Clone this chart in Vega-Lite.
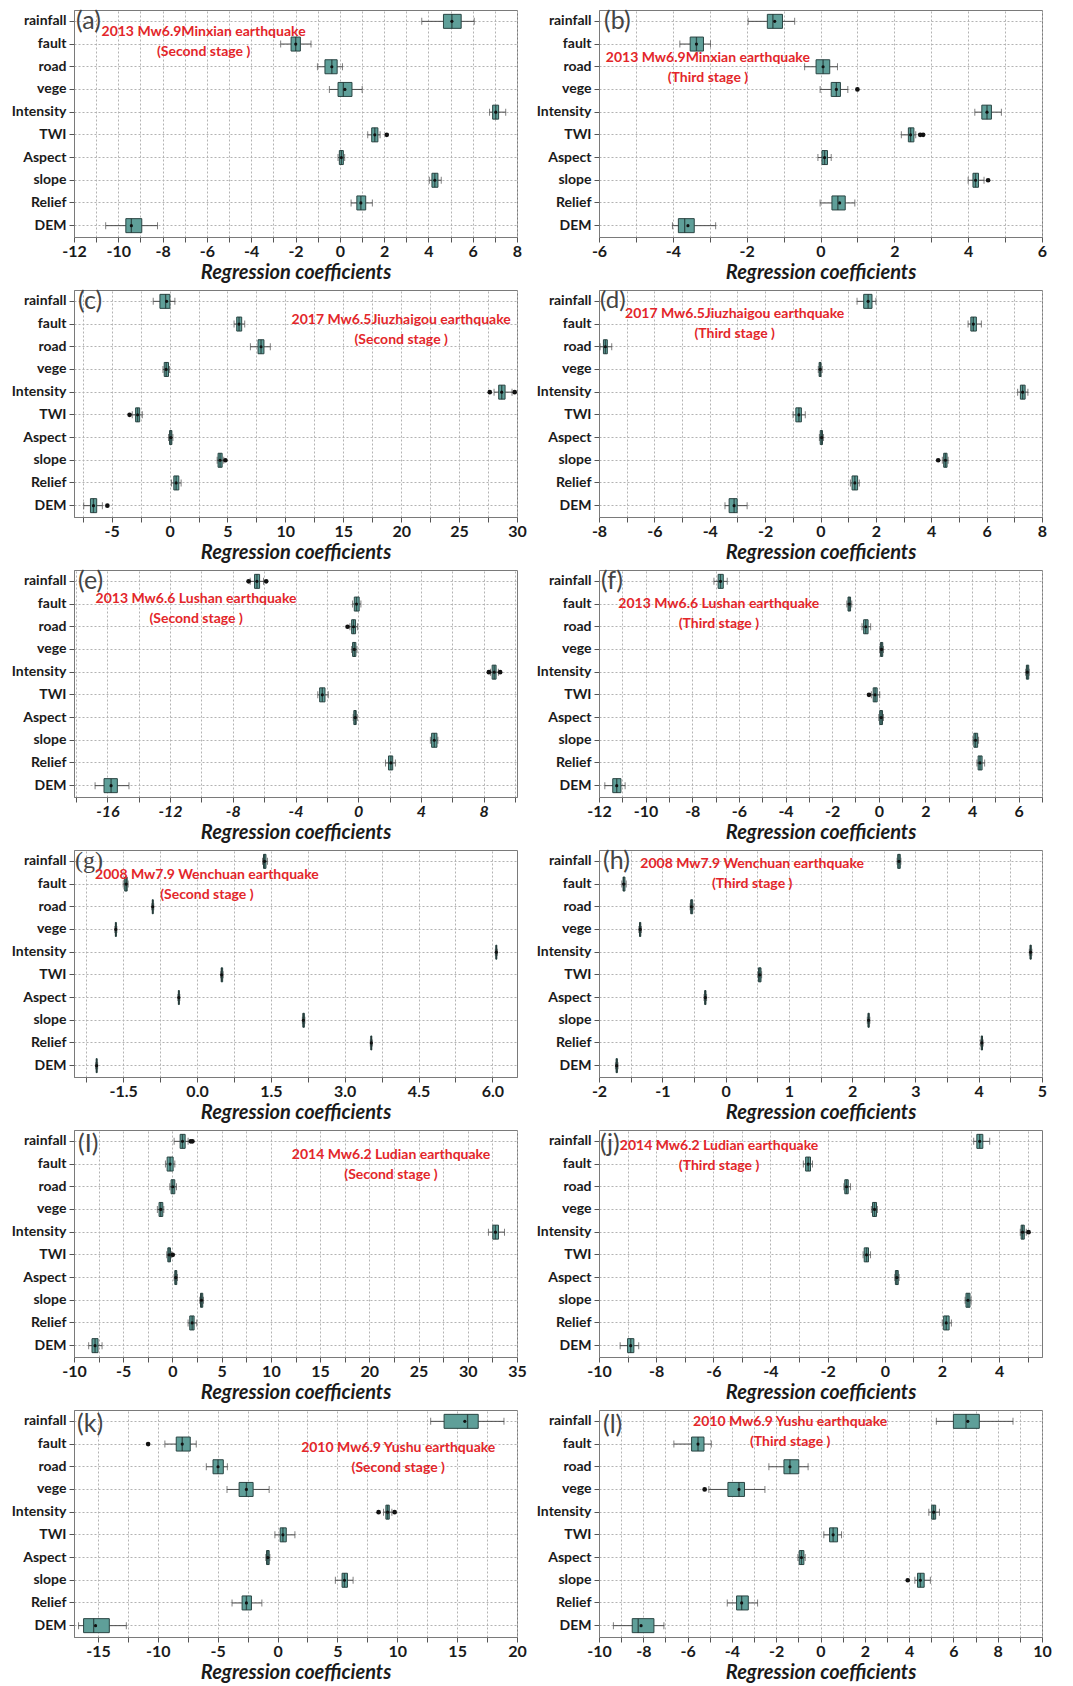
{
"$schema": "https://vega.github.io/schema/vega-lite/v6.json",
"background": "white",
"padding": {"left": 10, "top": 8, "right": 5, "bottom": 5},
"columns": 2,
"bounds": "flush",
"spacing": {"row": 53, "column": 82},
"resolve": {"scale": {"x": "independent", "y": "independent"}},
"datasets": {
"boxes": [
{"p":"a","v":"rainfall","lo":3.70,"q1":4.68,"md":5.06,"q3":5.48,"hi":6.07,"mn":5.06},
{"p":"a","v":"fault","lo":-2.67,"q1":-2.20,"md":-1.99,"q3":-1.78,"hi":-1.30,"mn":-1.99},
{"p":"a","v":"road","lo":-1.01,"q1":-0.67,"md":-0.36,"q3":-0.12,"hi":0.12,"mn":-0.36},
{"p":"a","v":"vege","lo":-0.47,"q1":-0.08,"md":0.16,"q3":0.55,"hi":1.01,"mn":0.23},
{"p":"a","v":"Intensity","lo":6.76,"q1":6.90,"md":7.04,"q3":7.17,"hi":7.49,"mn":7.04},
{"p":"a","v":"TWI","lo":1.26,"q1":1.44,"md":1.58,"q3":1.72,"hi":1.82,"mn":1.58},
{"p":"a","v":"Aspect","lo":-0.08,"q1":-0.02,"md":0.07,"q3":0.16,"hi":0.22,"mn":0.07},
{"p":"a","v":"slope","lo":4.04,"q1":4.16,"md":4.29,"q3":4.43,"hi":4.58,"mn":4.29},
{"p":"a","v":"Relief","lo":0.51,"q1":0.77,"md":0.95,"q3":1.17,"hi":1.47,"mn":0.95},
{"p":"a","v":"DEM","lo":-10.57,"q1":-9.66,"md":-9.41,"q3":-8.94,"hi":-8.23,"mn":-9.41},
{"p":"b","v":"rainfall","lo":-1.96,"q1":-1.44,"md":-1.29,"q3":-1.03,"hi":-0.70,"mn":-1.24},
{"p":"b","v":"fault","lo":-3.81,"q1":-3.53,"md":-3.36,"q3":-3.17,"hi":-2.98,"mn":-3.36},
{"p":"b","v":"road","lo":-0.43,"q1":-0.12,"md":0.07,"q3":0.25,"hi":0.46,"mn":0.07},
{"p":"b","v":"vege","lo":-0.01,"q1":0.29,"md":0.43,"q3":0.54,"hi":0.74,"mn":0.43},
{"p":"b","v":"Intensity","lo":4.18,"q1":4.37,"md":4.51,"q3":4.63,"hi":4.90,"mn":4.51},
{"p":"b","v":"TWI","lo":2.19,"q1":2.38,"md":2.44,"q3":2.53,"hi":2.58,"mn":2.44},
{"p":"b","v":"Aspect","lo":-0.07,"q1":0.04,"md":0.11,"q3":0.19,"hi":0.29,"mn":0.11},
{"p":"b","v":"slope","lo":4.00,"q1":4.13,"md":4.20,"q3":4.28,"hi":4.43,"mn":4.20},
{"p":"b","v":"Relief","lo":-0.01,"q1":0.31,"md":0.47,"q3":0.67,"hi":0.93,"mn":0.52},
{"p":"b","v":"DEM","lo":-4.01,"q1":-3.85,"md":-3.68,"q3":-3.42,"hi":-2.84,"mn":-3.59},
{"p":"c","v":"rainfall","lo":-1.41,"q1":-0.83,"md":-0.34,"q3":0.03,"hi":0.46,"mn":-0.25},
{"p":"c","v":"fault","lo":5.57,"q1":5.80,"md":6.00,"q3":6.23,"hi":6.49,"mn":6.00},
{"p":"c","v":"road","lo":6.98,"q1":7.64,"md":7.90,"q3":8.15,"hi":8.70,"mn":7.90},
{"p":"c","v":"vege","lo":-0.57,"q1":-0.46,"md":-0.29,"q3":-0.09,"hi":0.00,"mn":-0.29},
{"p":"c","v":"Intensity","lo":28.02,"q1":28.42,"md":28.68,"q3":28.97,"hi":29.57,"mn":28.68},
{"p":"c","v":"TWI","lo":-3.22,"q1":-2.93,"md":-2.76,"q3":-2.58,"hi":-2.35,"mn":-2.76},
{"p":"c","v":"Aspect","lo":-0.09,"q1":0.00,"md":0.11,"q3":0.20,"hi":0.29,"mn":0.11},
{"p":"c","v":"slope","lo":4.11,"q1":4.19,"md":4.36,"q3":4.54,"hi":4.68,"mn":4.36},
{"p":"c","v":"Relief","lo":0.17,"q1":0.37,"md":0.57,"q3":0.80,"hi":1.00,"mn":0.57},
{"p":"c","v":"DEM","lo":-7.41,"q1":-6.83,"md":-6.57,"q3":-6.29,"hi":-5.80,"mn":-6.57},
{"p":"d","v":"rainfall","lo":1.32,"q1":1.56,"md":1.72,"q3":1.86,"hi":2.00,"mn":1.72},
{"p":"d","v":"fault","lo":5.33,"q1":5.43,"md":5.52,"q3":5.63,"hi":5.81,"mn":5.52},
{"p":"d","v":"road","lo":-7.96,"q1":-7.84,"md":-7.77,"q3":-7.70,"hi":-7.54,"mn":-7.77},
{"p":"d","v":"vege","lo":-0.08,"q1":-0.05,"md":-0.01,"q3":0.02,"hi":0.06,"mn":-0.01},
{"p":"d","v":"Intensity","lo":7.12,"q1":7.22,"md":7.30,"q3":7.39,"hi":7.49,"mn":7.30},
{"p":"d","v":"TWI","lo":-0.99,"q1":-0.89,"md":-0.78,"q3":-0.69,"hi":-0.55,"mn":-0.78},
{"p":"d","v":"Aspect","lo":-0.04,"q1":-0.01,"md":0.04,"q3":0.07,"hi":0.11,"mn":0.04},
{"p":"d","v":"slope","lo":4.40,"q1":4.45,"md":4.51,"q3":4.57,"hi":4.61,"mn":4.51},
{"p":"d","v":"Relief","lo":1.08,"q1":1.14,"md":1.24,"q3":1.34,"hi":1.40,"mn":1.24},
{"p":"d","v":"DEM","lo":-3.45,"q1":-3.30,"md":-3.12,"q3":-3.01,"hi":-2.65,"mn":-3.12},
{"p":"e","v":"rainfall","lo":-6.89,"q1":-6.61,"md":-6.46,"q3":-6.29,"hi":-6.04,"mn":-6.46},
{"p":"e","v":"fault","lo":-0.36,"q1":-0.25,"md":-0.11,"q3":0.06,"hi":0.17,"mn":-0.11},
{"p":"e","v":"road","lo":-0.53,"q1":-0.42,"md":-0.30,"q3":-0.17,"hi":-0.04,"mn":-0.30},
{"p":"e","v":"vege","lo":-0.42,"q1":-0.36,"md":-0.25,"q3":-0.15,"hi":-0.08,"mn":-0.25},
{"p":"e","v":"Intensity","lo":8.43,"q1":8.54,"md":8.67,"q3":8.79,"hi":8.94,"mn":8.67},
{"p":"e","v":"TWI","lo":-2.58,"q1":-2.46,"md":-2.29,"q3":-2.12,"hi":-1.91,"mn":-2.29},
{"p":"e","v":"Aspect","lo":-0.32,"q1":-0.28,"md":-0.19,"q3":-0.13,"hi":-0.06,"mn":-0.19},
{"p":"e","v":"slope","lo":4.60,"q1":4.68,"md":4.85,"q3":5.02,"hi":5.08,"mn":4.85},
{"p":"e","v":"Relief","lo":1.74,"q1":1.93,"md":2.08,"q3":2.20,"hi":2.37,"mn":2.08},
{"p":"e","v":"DEM","lo":-16.78,"q1":-16.21,"md":-15.76,"q3":-15.36,"hi":-14.62,"mn":-15.76},
{"p":"f","v":"rainfall","lo":-7.07,"q1":-6.89,"md":-6.79,"q3":-6.67,"hi":-6.50,"mn":-6.79},
{"p":"f","v":"fault","lo":-1.37,"q1":-1.32,"md":-1.27,"q3":-1.21,"hi":-1.16,"mn":-1.27},
{"p":"f","v":"road","lo":-0.72,"q1":-0.65,"md":-0.56,"q3":-0.46,"hi":-0.35,"mn":-0.56},
{"p":"f","v":"vege","lo":0.04,"q1":0.07,"md":0.12,"q3":0.17,"hi":0.20,"mn":0.12},
{"p":"f","v":"Intensity","lo":6.30,"q1":6.33,"md":6.37,"q3":6.43,"hi":6.45,"mn":6.37},
{"p":"f","v":"TWI","lo":-0.32,"q1":-0.24,"md":-0.16,"q3":-0.07,"hi":0.04,"mn":-0.16},
{"p":"f","v":"Aspect","lo":0.00,"q1":0.04,"md":0.10,"q3":0.16,"hi":0.20,"mn":0.10},
{"p":"f","v":"slope","lo":4.04,"q1":4.08,"md":4.15,"q3":4.24,"hi":4.28,"mn":4.15},
{"p":"f","v":"Relief","lo":4.21,"q1":4.26,"md":4.34,"q3":4.43,"hi":4.54,"mn":4.34},
{"p":"f","v":"DEM","lo":-11.75,"q1":-11.41,"md":-11.24,"q3":-11.06,"hi":-10.88,"mn":-11.24},
{"p":"g","v":"rainfall","lo":1.33,"q1":1.35,"md":1.37,"q3":1.40,"hi":1.43,"mn":1.37},
{"p":"g","v":"fault","lo":-1.50,"q1":-1.47,"md":-1.44,"q3":-1.42,"hi":-1.40,"mn":-1.44},
{"p":"g","v":"road","lo":-0.92,"q1":-0.91,"md":-0.90,"q3":-0.89,"hi":-0.88,"mn":-0.90},
{"p":"g","v":"vege","lo":-1.67,"q1":-1.66,"md":-1.65,"q3":-1.64,"hi":-1.63,"mn":-1.65},
{"p":"g","v":"Intensity","lo":6.06,"q1":6.07,"md":6.08,"q3":6.09,"hi":6.10,"mn":6.08},
{"p":"g","v":"TWI","lo":0.48,"q1":0.49,"md":0.50,"q3":0.52,"hi":0.53,"mn":0.50},
{"p":"g","v":"Aspect","lo":-0.39,"q1":-0.38,"md":-0.37,"q3":-0.36,"hi":-0.35,"mn":-0.37},
{"p":"g","v":"slope","lo":2.14,"q1":2.15,"md":2.16,"q3":2.18,"hi":2.19,"mn":2.16},
{"p":"g","v":"Relief","lo":3.52,"q1":3.53,"md":3.54,"q3":3.55,"hi":3.56,"mn":3.54},
{"p":"g","v":"DEM","lo":-2.06,"q1":-2.05,"md":-2.04,"q3":-2.03,"hi":-2.02,"mn":-2.04},
{"p":"h","v":"rainfall","lo":2.71,"q1":2.72,"md":2.74,"q3":2.76,"hi":2.77,"mn":2.74},
{"p":"h","v":"fault","lo":-1.64,"q1":-1.62,"md":-1.61,"q3":-1.59,"hi":-1.57,"mn":-1.61},
{"p":"h","v":"road","lo":-0.56,"q1":-0.55,"md":-0.54,"q3":-0.52,"hi":-0.50,"mn":-0.54},
{"p":"h","v":"vege","lo":-1.37,"q1":-1.36,"md":-1.35,"q3":-1.34,"hi":-1.33,"mn":-1.35},
{"p":"h","v":"Intensity","lo":4.80,"q1":4.81,"md":4.82,"q3":4.83,"hi":4.84,"mn":4.82},
{"p":"h","v":"TWI","lo":0.51,"q1":0.52,"md":0.54,"q3":0.56,"hi":0.57,"mn":0.54},
{"p":"h","v":"Aspect","lo":-0.34,"q1":-0.33,"md":-0.32,"q3":-0.31,"hi":-0.30,"mn":-0.32},
{"p":"h","v":"slope","lo":2.24,"q1":2.25,"md":2.26,"q3":2.27,"hi":2.28,"mn":2.26},
{"p":"h","v":"Relief","lo":4.03,"q1":4.04,"md":4.05,"q3":4.06,"hi":4.07,"mn":4.05},
{"p":"h","v":"DEM","lo":-1.74,"q1":-1.73,"md":-1.72,"q3":-1.71,"hi":-1.70,"mn":-1.72},
{"p":"i","v":"rainfall","lo":0.17,"q1":0.78,"md":1.02,"q3":1.29,"hi":1.59,"mn":1.02},
{"p":"i","v":"fault","lo":-0.71,"q1":-0.54,"md":-0.24,"q3":0.07,"hi":0.24,"mn":-0.24},
{"p":"i","v":"road","lo":-0.27,"q1":-0.14,"md":0.03,"q3":0.24,"hi":0.41,"mn":0.03},
{"p":"i","v":"vege","lo":-1.53,"q1":-1.36,"md":-1.19,"q3":-0.98,"hi":-0.88,"mn":-1.19},
{"p":"i","v":"Intensity","lo":32.10,"q1":32.54,"md":32.81,"q3":33.12,"hi":33.73,"mn":32.81},
{"p":"i","v":"TWI","lo":-0.58,"q1":-0.47,"md":-0.34,"q3":-0.20,"hi":-0.10,"mn":-0.34},
{"p":"i","v":"Aspect","lo":0.17,"q1":0.24,"md":0.34,"q3":0.44,"hi":0.51,"mn":0.34},
{"p":"i","v":"slope","lo":2.78,"q1":2.85,"md":2.95,"q3":3.08,"hi":3.15,"mn":2.95},
{"p":"i","v":"Relief","lo":1.59,"q1":1.76,"md":2.00,"q3":2.20,"hi":2.47,"mn":2.00},
{"p":"i","v":"DEM","lo":-8.51,"q1":-8.17,"md":-7.86,"q3":-7.56,"hi":-7.15,"mn":-7.86},
{"p":"j","v":"rainfall","lo":3.11,"q1":3.22,"md":3.32,"q3":3.43,"hi":3.67,"mn":3.32},
{"p":"j","v":"fault","lo":-2.85,"q1":-2.77,"md":-2.68,"q3":-2.60,"hi":-2.53,"mn":-2.68},
{"p":"j","v":"road","lo":-1.43,"q1":-1.40,"md":-1.34,"q3":-1.28,"hi":-1.20,"mn":-1.34},
{"p":"j","v":"vege","lo":-0.47,"q1":-0.43,"md":-0.36,"q3":-0.29,"hi":-0.26,"mn":-0.36},
{"p":"j","v":"Intensity","lo":4.74,"q1":4.77,"md":4.82,"q3":4.88,"hi":4.95,"mn":4.82},
{"p":"j","v":"TWI","lo":-0.76,"q1":-0.72,"md":-0.64,"q3":-0.57,"hi":-0.50,"mn":-0.64},
{"p":"j","v":"Aspect","lo":0.35,"q1":0.37,"md":0.42,"q3":0.47,"hi":0.50,"mn":0.42},
{"p":"j","v":"slope","lo":2.81,"q1":2.84,"md":2.91,"q3":2.98,"hi":3.02,"mn":2.91},
{"p":"j","v":"Relief","lo":2.01,"q1":2.06,"md":2.15,"q3":2.25,"hi":2.33,"mn":2.15},
{"p":"j","v":"DEM","lo":-9.26,"q1":-9.00,"md":-8.89,"q3":-8.78,"hi":-8.61,"mn":-8.89},
{"p":"k","v":"rainfall","lo":12.79,"q1":13.91,"md":15.87,"q3":16.76,"hi":18.91,"mn":15.64},
{"p":"k","v":"fault","lo":-9.41,"q1":-8.46,"md":-7.96,"q3":-7.29,"hi":-6.79,"mn":-7.96},
{"p":"k","v":"road","lo":-5.95,"q1":-5.39,"md":-4.97,"q3":-4.53,"hi":-4.19,"mn":-4.97},
{"p":"k","v":"vege","lo":-4.22,"q1":-3.21,"md":-2.60,"q3":-2.04,"hi":-0.70,"mn":-2.60},
{"p":"k","v":"Intensity","lo":8.85,"q1":9.05,"md":9.19,"q3":9.33,"hi":9.55,"mn":9.19},
{"p":"k","v":"TWI","lo":-0.22,"q1":0.22,"md":0.45,"q3":0.73,"hi":1.45,"mn":0.45},
{"p":"k","v":"Aspect","lo":-0.98,"q1":-0.92,"md":-0.81,"q3":-0.70,"hi":-0.64,"mn":-0.81},
{"p":"k","v":"slope","lo":4.83,"q1":5.39,"md":5.59,"q3":5.84,"hi":6.31,"mn":5.59},
{"p":"k","v":"Relief","lo":-3.80,"q1":-2.96,"md":-2.60,"q3":-2.18,"hi":-1.31,"mn":-2.60},
{"p":"k","v":"DEM","lo":-16.62,"q1":-16.20,"md":-15.36,"q3":-14.05,"hi":-12.63,"mn":-15.20},
{"p":"l","v":"rainfall","lo":5.23,"q1":6.00,"md":6.57,"q3":7.17,"hi":8.69,"mn":6.65},
{"p":"l","v":"fault","lo":-6.62,"q1":-5.82,"md":-5.53,"q3":-5.26,"hi":-4.93,"mn":-5.53},
{"p":"l","v":"road","lo":-2.33,"q1":-1.65,"md":-1.38,"q3":-0.98,"hi":-0.56,"mn":-1.38},
{"p":"l","v":"vege","lo":-5.04,"q1":-4.18,"md":-3.68,"q3":-3.43,"hi":-2.51,"mn":-3.68},
{"p":"l","v":"Intensity","lo":4.89,"q1":5.02,"md":5.11,"q3":5.20,"hi":5.37,"mn":5.11},
{"p":"l","v":"TWI","lo":0.15,"q1":0.41,"md":0.57,"q3":0.77,"hi":0.95,"mn":0.57},
{"p":"l","v":"Aspect","lo":-1.02,"q1":-0.96,"md":-0.86,"q3":-0.75,"hi":-0.69,"mn":-0.86},
{"p":"l","v":"slope","lo":4.26,"q1":4.38,"md":4.51,"q3":4.68,"hi":4.96,"mn":4.51},
{"p":"l","v":"Relief","lo":-4.21,"q1":-3.79,"md":-3.56,"q3":-3.26,"hi":-2.84,"mn":-3.56},
{"p":"l","v":"DEM","lo":-9.35,"q1":-8.50,"md":-8.23,"q3":-7.52,"hi":-7.07,"mn":-8.10}
],
"outliers": [
{"p":"a","v":"TWI","x":2.12},
{"p":"b","v":"vege","x":1.00},
{"p":"b","v":"TWI","x":2.70},
{"p":"b","v":"TWI","x":2.78},
{"p":"b","v":"slope","x":4.54},
{"p":"c","v":"Intensity","x":27.65},
{"p":"c","v":"Intensity","x":29.80},
{"p":"c","v":"TWI","x":-3.45},
{"p":"c","v":"slope","x":4.82},
{"p":"c","v":"DEM","x":-5.37},
{"p":"d","v":"slope","x":4.25},
{"p":"e","v":"rainfall","x":-6.99},
{"p":"e","v":"rainfall","x":-5.87},
{"p":"e","v":"road","x":-0.68},
{"p":"e","v":"Intensity","x":8.33},
{"p":"e","v":"Intensity","x":9.05},
{"p":"f","v":"TWI","x":-0.42},
{"p":"i","v":"rainfall","x":1.86},
{"p":"i","v":"rainfall","x":2.03},
{"p":"i","v":"TWI","x":0.03},
{"p":"j","v":"Intensity","x":5.03},
{"p":"k","v":"fault","x":-10.81},
{"p":"k","v":"Intensity","x":8.44},
{"p":"k","v":"Intensity","x":9.78},
{"p":"l","v":"vege","x":-5.23},
{"p":"l","v":"slope","x":3.94}
],
"notes": [
{"p":"a","tag":"(a)","t":["2013 Mw6.9Minxian earthquake","(Second stage )"]},
{"p":"b","tag":"(b)","t":["2013 Mw6.9Minxian earthquake","(Third stage )"]},
{"p":"c","tag":"(c)","t":["2017 Mw6.5Jiuzhaigou earthquake","(Second stage )"]},
{"p":"d","tag":"(d)","t":["2017 Mw6.5Jiuzhaigou earthquake","(Third stage )"]},
{"p":"e","tag":"(e)","t":["2013 Mw6.6 Lushan earthquake","(Second stage )"]},
{"p":"f","tag":"(f)","t":["2013 Mw6.6 Lushan earthquake","(Third stage )"]},
{"p":"g","tag":"(g)","t":["2008 Mw7.9 Wenchuan earthquake","(Second stage )"]},
{"p":"h","tag":"(h)","t":["2008 Mw7.9 Wenchuan earthquake","(Third stage )"]},
{"p":"i","tag":"(I)","t":["2014 Mw6.2 Ludian earthquake","(Second stage )"]},
{"p":"j","tag":"(j)","t":["2014 Mw6.2 Ludian earthquake","(Third stage )"]},
{"p":"k","tag":"(k)","t":["2010 Mw6.9 Yushu earthquake","(Second stage )"]},
{"p":"l","tag":"(l)","t":["2010 Mw6.9 Yushu earthquake","(Third stage )"]}
]
},
"concat": [
{"width":443,"height":227,"layer":[
{"data":{"name":"boxes"},"transform":[{"filter":"datum.p == 'a'"}],"encoding":{"y":{"field":"v","type":"nominal","title":null,"scale":{"domain":["rainfall","fault","road","vege","Intensity","TWI","Aspect","slope","Relief","DEM"]}}},"layer":[
{"mark":{"type":"rule","color":"#4a4a4a"},"encoding":{"x":{"field":"lo","type":"quantitative","title":"Regression coefficients","scale":{"domain":[-12,8],"nice":false,"zero":false},"axis":{"tickCount":60,"labelOverlap":false,"labelBound":false,"values":[-12,-11,-10,-9,-8,-7,-6,-5,-4,-3,-2,-1,0,1,2,3,4,5,6,7,8],"labelExpr":"abs(datum.value % 2) < 1e-6 ? '' + datum.value : ''"}},"x2":{"field":"hi"}}},
{"mark":{"type":"tick","size":7,"thickness":1,"color":"#4a4a4a"},"encoding":{"x":{"field":"lo","type":"quantitative"}}},
{"mark":{"type":"tick","size":7,"thickness":1,"color":"#4a4a4a"},"encoding":{"x":{"field":"hi","type":"quantitative"}}},
{"mark":{"type":"bar","height":14,"fill":"#5f9f99","stroke":"#2a4543","strokeWidth":1},"encoding":{"x":{"field":"q1","type":"quantitative"},"x2":{"field":"q3"}}},
{"mark":{"type":"tick","size":14,"thickness":1.3,"color":"#1c2b2a"},"encoding":{"x":{"field":"md","type":"quantitative"}}},
{"mark":{"type":"point","filled":true,"size":10,"color":"#111","opacity":1},"encoding":{"x":{"field":"mn","type":"quantitative"}}}
]},
{"data":{"name":"outliers"},"transform":[{"filter":"datum.p == 'a'"}],"mark":{"type":"point","filled":true,"size":22,"color":"#111","opacity":1},"encoding":{"x":{"field":"x","type":"quantitative"},"y":{"field":"v","type":"nominal","title":null}}},
{"data":{"name":"notes"},"transform":[{"filter":"datum.p == 'a'"}],"mark":{"type":"text","align":"left","baseline":"middle","dx":2,"font":"Lato","fontSize":25,"color":"#444"},"encoding":{"x":{"datum":-12},"y":{"datum":"rainfall"},"text":{"field":"tag"}}},
{"data":{"name":"notes"},"transform":[{"filter":"datum.p == 'a'"}],"mark":{"type":"text","align":"center","baseline":"middle","dy":-12,"font":"Lato","fontWeight":"bold","fontSize":14,"lineHeight":20,"color":"#e3262a"},"encoding":{"x":{"datum":-6.15},"y":{"datum":"fault"},"text":{"field":"t"}}}
]},
{"width":443,"height":227,"layer":[
{"data":{"name":"boxes"},"transform":[{"filter":"datum.p == 'b'"}],"encoding":{"y":{"field":"v","type":"nominal","title":null,"scale":{"domain":["rainfall","fault","road","vege","Intensity","TWI","Aspect","slope","Relief","DEM"]}}},"layer":[
{"mark":{"type":"rule","color":"#4a4a4a"},"encoding":{"x":{"field":"lo","type":"quantitative","title":"Regression coefficients","scale":{"domain":[-6,6],"nice":false,"zero":false},"axis":{"tickCount":60,"labelOverlap":false,"labelBound":false,"values":[-6,-5,-4,-3,-2,-1,0,1,2,3,4,5,6],"labelExpr":"abs(datum.value % 2) < 1e-6 ? '' + datum.value : ''"}},"x2":{"field":"hi"}}},
{"mark":{"type":"tick","size":7,"thickness":1,"color":"#4a4a4a"},"encoding":{"x":{"field":"lo","type":"quantitative"}}},
{"mark":{"type":"tick","size":7,"thickness":1,"color":"#4a4a4a"},"encoding":{"x":{"field":"hi","type":"quantitative"}}},
{"mark":{"type":"bar","height":14,"fill":"#5f9f99","stroke":"#2a4543","strokeWidth":1},"encoding":{"x":{"field":"q1","type":"quantitative"},"x2":{"field":"q3"}}},
{"mark":{"type":"tick","size":14,"thickness":1.3,"color":"#1c2b2a"},"encoding":{"x":{"field":"md","type":"quantitative"}}},
{"mark":{"type":"point","filled":true,"size":10,"color":"#111","opacity":1},"encoding":{"x":{"field":"mn","type":"quantitative"}}}
]},
{"data":{"name":"outliers"},"transform":[{"filter":"datum.p == 'b'"}],"mark":{"type":"point","filled":true,"size":22,"color":"#111","opacity":1},"encoding":{"x":{"field":"x","type":"quantitative"},"y":{"field":"v","type":"nominal","title":null}}},
{"data":{"name":"notes"},"transform":[{"filter":"datum.p == 'b'"}],"mark":{"type":"text","align":"left","baseline":"middle","dx":5,"font":"Lato","fontSize":25,"color":"#444"},"encoding":{"x":{"datum":-6},"y":{"datum":"rainfall"},"text":{"field":"tag"}}},
{"data":{"name":"notes"},"transform":[{"filter":"datum.p == 'b'"}],"mark":{"type":"text","align":"center","baseline":"middle","dy":-9,"font":"Lato","fontWeight":"bold","fontSize":14,"lineHeight":20,"color":"#e3262a"},"encoding":{"x":{"datum":-3.05},"y":{"datum":"road"},"text":{"field":"t"}}}
]},
{"width":443,"height":227,"layer":[
{"data":{"name":"boxes"},"transform":[{"filter":"datum.p == 'c'"}],"encoding":{"y":{"field":"v","type":"nominal","title":null,"scale":{"domain":["rainfall","fault","road","vege","Intensity","TWI","Aspect","slope","Relief","DEM"]}}},"layer":[
{"mark":{"type":"rule","color":"#4a4a4a"},"encoding":{"x":{"field":"lo","type":"quantitative","title":"Regression coefficients","scale":{"domain":[-8.25,30],"nice":false,"zero":false},"axis":{"tickCount":60,"labelOverlap":false,"labelBound":false,"values":[-7.5,-5,-2.5,0,2.5,5,7.5,10,12.5,15,17.5,20,22.5,25,27.5,30],"labelExpr":"abs(datum.value % 5) < 1e-6 ? '' + datum.value : ''"}},"x2":{"field":"hi"}}},
{"mark":{"type":"tick","size":7,"thickness":1,"color":"#4a4a4a"},"encoding":{"x":{"field":"lo","type":"quantitative"}}},
{"mark":{"type":"tick","size":7,"thickness":1,"color":"#4a4a4a"},"encoding":{"x":{"field":"hi","type":"quantitative"}}},
{"mark":{"type":"bar","height":14,"fill":"#5f9f99","stroke":"#2a4543","strokeWidth":1},"encoding":{"x":{"field":"q1","type":"quantitative"},"x2":{"field":"q3"}}},
{"mark":{"type":"tick","size":14,"thickness":1.3,"color":"#1c2b2a"},"encoding":{"x":{"field":"md","type":"quantitative"}}},
{"mark":{"type":"point","filled":true,"size":10,"color":"#111","opacity":1},"encoding":{"x":{"field":"mn","type":"quantitative"}}}
]},
{"data":{"name":"outliers"},"transform":[{"filter":"datum.p == 'c'"}],"mark":{"type":"point","filled":true,"size":22,"color":"#111","opacity":1},"encoding":{"x":{"field":"x","type":"quantitative"},"y":{"field":"v","type":"nominal","title":null}}},
{"data":{"name":"notes"},"transform":[{"filter":"datum.p == 'c'"}],"mark":{"type":"text","align":"left","baseline":"middle","dx":4,"font":"Lato","fontSize":25,"color":"#444"},"encoding":{"x":{"datum":-8.25},"y":{"datum":"rainfall"},"text":{"field":"tag"}}},
{"data":{"name":"notes"},"transform":[{"filter":"datum.p == 'c'"}],"mark":{"type":"text","align":"center","baseline":"middle","dy":-4,"font":"Lato","fontWeight":"bold","fontSize":14,"lineHeight":20,"color":"#e3262a"},"encoding":{"x":{"datum":20},"y":{"datum":"fault"},"text":{"field":"t"}}}
]},
{"width":443,"height":227,"layer":[
{"data":{"name":"boxes"},"transform":[{"filter":"datum.p == 'd'"}],"encoding":{"y":{"field":"v","type":"nominal","title":null,"scale":{"domain":["rainfall","fault","road","vege","Intensity","TWI","Aspect","slope","Relief","DEM"]}}},"layer":[
{"mark":{"type":"rule","color":"#4a4a4a"},"encoding":{"x":{"field":"lo","type":"quantitative","title":"Regression coefficients","scale":{"domain":[-8,8],"nice":false,"zero":false},"axis":{"tickCount":60,"labelOverlap":false,"labelBound":false,"values":[-8,-7,-6,-5,-4,-3,-2,-1,0,1,2,3,4,5,6,7,8],"labelExpr":"abs(datum.value % 2) < 1e-6 ? '' + datum.value : ''"}},"x2":{"field":"hi"}}},
{"mark":{"type":"tick","size":7,"thickness":1,"color":"#4a4a4a"},"encoding":{"x":{"field":"lo","type":"quantitative"}}},
{"mark":{"type":"tick","size":7,"thickness":1,"color":"#4a4a4a"},"encoding":{"x":{"field":"hi","type":"quantitative"}}},
{"mark":{"type":"bar","height":14,"fill":"#5f9f99","stroke":"#2a4543","strokeWidth":1},"encoding":{"x":{"field":"q1","type":"quantitative"},"x2":{"field":"q3"}}},
{"mark":{"type":"tick","size":14,"thickness":1.3,"color":"#1c2b2a"},"encoding":{"x":{"field":"md","type":"quantitative"}}},
{"mark":{"type":"point","filled":true,"size":10,"color":"#111","opacity":1},"encoding":{"x":{"field":"mn","type":"quantitative"}}}
]},
{"data":{"name":"outliers"},"transform":[{"filter":"datum.p == 'd'"}],"mark":{"type":"point","filled":true,"size":22,"color":"#111","opacity":1},"encoding":{"x":{"field":"x","type":"quantitative"},"y":{"field":"v","type":"nominal","title":null}}},
{"data":{"name":"notes"},"transform":[{"filter":"datum.p == 'd'"}],"mark":{"type":"text","align":"left","baseline":"middle","dx":1,"font":"Lato","fontSize":24,"color":"#444"},"encoding":{"x":{"datum":-8},"y":{"datum":"rainfall"},"text":{"field":"tag"}}},
{"data":{"name":"notes"},"transform":[{"filter":"datum.p == 'd'"}],"mark":{"type":"text","align":"center","baseline":"middle","dy":-10,"font":"Lato","fontWeight":"bold","fontSize":14,"lineHeight":20,"color":"#e3262a"},"encoding":{"x":{"datum":-3.1},"y":{"datum":"fault"},"text":{"field":"t"}}}
]},
{"width":443,"height":227,"layer":[
{"data":{"name":"boxes"},"transform":[{"filter":"datum.p == 'e'"}],"encoding":{"y":{"field":"v","type":"nominal","title":null,"scale":{"domain":["rainfall","fault","road","vege","Intensity","TWI","Aspect","slope","Relief","DEM"]}}},"layer":[
{"mark":{"type":"rule","color":"#4a4a4a"},"encoding":{"x":{"field":"lo","type":"quantitative","title":"Regression coefficients","scale":{"domain":[-18.125,10.125],"nice":false,"zero":false},"axis":{"tickCount":60,"labelOverlap":false,"labelBound":false,"values":[-18,-16,-14,-12,-10,-8,-6,-4,-2,0,2,4,6,8,10],"labelFontStyle":"italic","labelExpr":"abs(datum.value % 4) < 1e-6 ? '' + datum.value : ''"}},"x2":{"field":"hi"}}},
{"mark":{"type":"tick","size":7,"thickness":1,"color":"#4a4a4a"},"encoding":{"x":{"field":"lo","type":"quantitative"}}},
{"mark":{"type":"tick","size":7,"thickness":1,"color":"#4a4a4a"},"encoding":{"x":{"field":"hi","type":"quantitative"}}},
{"mark":{"type":"bar","height":14,"fill":"#5f9f99","stroke":"#2a4543","strokeWidth":1},"encoding":{"x":{"field":"q1","type":"quantitative"},"x2":{"field":"q3"}}},
{"mark":{"type":"tick","size":14,"thickness":1.3,"color":"#1c2b2a"},"encoding":{"x":{"field":"md","type":"quantitative"}}},
{"mark":{"type":"point","filled":true,"size":10,"color":"#111","opacity":1},"encoding":{"x":{"field":"mn","type":"quantitative"}}}
]},
{"data":{"name":"outliers"},"transform":[{"filter":"datum.p == 'e'"}],"mark":{"type":"point","filled":true,"size":22,"color":"#111","opacity":1},"encoding":{"x":{"field":"x","type":"quantitative"},"y":{"field":"v","type":"nominal","title":null}}},
{"data":{"name":"notes"},"transform":[{"filter":"datum.p == 'e'"}],"mark":{"type":"text","align":"left","baseline":"middle","dx":4,"font":"Lato","fontSize":25,"color":"#444"},"encoding":{"x":{"datum":-18.125},"y":{"datum":"rainfall"},"text":{"field":"tag"}}},
{"data":{"name":"notes"},"transform":[{"filter":"datum.p == 'e'"}],"mark":{"type":"text","align":"center","baseline":"middle","dy":-5,"font":"Lato","fontWeight":"bold","fontSize":14,"lineHeight":20,"color":"#e3262a"},"encoding":{"x":{"datum":-10.34},"y":{"datum":"fault"},"text":{"field":"t"}}}
]},
{"width":443,"height":227,"layer":[
{"data":{"name":"boxes"},"transform":[{"filter":"datum.p == 'f'"}],"encoding":{"y":{"field":"v","type":"nominal","title":null,"scale":{"domain":["rainfall","fault","road","vege","Intensity","TWI","Aspect","slope","Relief","DEM"]}}},"layer":[
{"mark":{"type":"rule","color":"#4a4a4a"},"encoding":{"x":{"field":"lo","type":"quantitative","title":"Regression coefficients","scale":{"domain":[-12,7],"nice":false,"zero":false},"axis":{"tickCount":60,"labelOverlap":false,"labelBound":false,"values":[-12,-11,-10,-9,-8,-7,-6,-5,-4,-3,-2,-1,0,1,2,3,4,5,6,7],"labelExpr":"abs(datum.value % 2) < 1e-6 ? '' + datum.value : ''"}},"x2":{"field":"hi"}}},
{"mark":{"type":"tick","size":7,"thickness":1,"color":"#4a4a4a"},"encoding":{"x":{"field":"lo","type":"quantitative"}}},
{"mark":{"type":"tick","size":7,"thickness":1,"color":"#4a4a4a"},"encoding":{"x":{"field":"hi","type":"quantitative"}}},
{"mark":{"type":"bar","height":14,"fill":"#5f9f99","stroke":"#2a4543","strokeWidth":1},"encoding":{"x":{"field":"q1","type":"quantitative"},"x2":{"field":"q3"}}},
{"mark":{"type":"tick","size":14,"thickness":1.3,"color":"#1c2b2a"},"encoding":{"x":{"field":"md","type":"quantitative"}}},
{"mark":{"type":"point","filled":true,"size":10,"color":"#111","opacity":1},"encoding":{"x":{"field":"mn","type":"quantitative"}}}
]},
{"data":{"name":"outliers"},"transform":[{"filter":"datum.p == 'f'"}],"mark":{"type":"point","filled":true,"size":22,"color":"#111","opacity":1},"encoding":{"x":{"field":"x","type":"quantitative"},"y":{"field":"v","type":"nominal","title":null}}},
{"data":{"name":"notes"},"transform":[{"filter":"datum.p == 'f'"}],"mark":{"type":"text","align":"left","baseline":"middle","dx":2,"font":"Lato","fontSize":25,"color":"#444"},"encoding":{"x":{"datum":-12},"y":{"datum":"rainfall"},"text":{"field":"tag"}}},
{"data":{"name":"notes"},"transform":[{"filter":"datum.p == 'f'"}],"mark":{"type":"text","align":"center","baseline":"middle","dy":0,"font":"Lato","fontWeight":"bold","fontSize":14,"lineHeight":20,"color":"#e3262a"},"encoding":{"x":{"datum":-6.86},"y":{"datum":"fault"},"text":{"field":"t"}}}
]},
{"width":443,"height":227,"layer":[
{"data":{"name":"boxes"},"transform":[{"filter":"datum.p == 'g'"}],"encoding":{"y":{"field":"v","type":"nominal","title":null,"scale":{"domain":["rainfall","fault","road","vege","Intensity","TWI","Aspect","slope","Relief","DEM"]}}},"layer":[
{"mark":{"type":"rule","color":"#4a4a4a"},"encoding":{"x":{"field":"lo","type":"quantitative","title":"Regression coefficients","scale":{"domain":[-2.5,6.5],"nice":false,"zero":false},"axis":{"tickCount":60,"labelOverlap":false,"labelBound":false,"values":[-2.25,-1.5,-0.75,0,0.75,1.5,2.25,3,3.75,4.5,5.25,6],"labelExpr":"abs(datum.value % 1.5) < 1e-6 ? replace(format(datum.value, '.1f'), '\u2212', '-') : ''"}},"x2":{"field":"hi"}}},
{"mark":{"type":"tick","size":7,"thickness":1,"color":"#4a4a4a"},"encoding":{"x":{"field":"lo","type":"quantitative"}}},
{"mark":{"type":"tick","size":7,"thickness":1,"color":"#4a4a4a"},"encoding":{"x":{"field":"hi","type":"quantitative"}}},
{"mark":{"type":"bar","height":14,"fill":"#5f9f99","stroke":"#2a4543","strokeWidth":1},"encoding":{"x":{"field":"q1","type":"quantitative"},"x2":{"field":"q3"}}},
{"mark":{"type":"tick","size":14,"thickness":1.3,"color":"#1c2b2a"},"encoding":{"x":{"field":"md","type":"quantitative"}}},
{"mark":{"type":"point","filled":true,"size":10,"color":"#111","opacity":1},"encoding":{"x":{"field":"mn","type":"quantitative"}}}
]},
{"data":{"name":"outliers"},"transform":[{"filter":"datum.p == 'g'"}],"mark":{"type":"point","filled":true,"size":22,"color":"#111","opacity":1},"encoding":{"x":{"field":"x","type":"quantitative"},"y":{"field":"v","type":"nominal","title":null}}},
{"data":{"name":"notes"},"transform":[{"filter":"datum.p == 'g'"}],"mark":{"type":"text","align":"left","baseline":"middle","dx":1,"font":"Liberation Serif","fontSize":24,"color":"#444"},"encoding":{"x":{"datum":-2.5},"y":{"datum":"rainfall"},"text":{"field":"tag"}}},
{"data":{"name":"notes"},"transform":[{"filter":"datum.p == 'g'"}],"mark":{"type":"text","align":"center","baseline":"middle","dy":-9,"font":"Lato","fontWeight":"bold","fontSize":14,"lineHeight":20,"color":"#e3262a"},"encoding":{"x":{"datum":0.2},"y":{"datum":"fault"},"text":{"field":"t"}}}
]},
{"width":443,"height":227,"layer":[
{"data":{"name":"boxes"},"transform":[{"filter":"datum.p == 'h'"}],"encoding":{"y":{"field":"v","type":"nominal","title":null,"scale":{"domain":["rainfall","fault","road","vege","Intensity","TWI","Aspect","slope","Relief","DEM"]}}},"layer":[
{"mark":{"type":"rule","color":"#4a4a4a"},"encoding":{"x":{"field":"lo","type":"quantitative","title":"Regression coefficients","scale":{"domain":[-2,5],"nice":false,"zero":false},"axis":{"tickCount":60,"labelOverlap":false,"labelBound":false,"values":[-2,-1.5,-1,-0.5,0,0.5,1,1.5,2,2.5,3,3.5,4,4.5,5],"labelExpr":"abs(datum.value % 1) < 1e-6 ? '' + datum.value : ''"}},"x2":{"field":"hi"}}},
{"mark":{"type":"tick","size":7,"thickness":1,"color":"#4a4a4a"},"encoding":{"x":{"field":"lo","type":"quantitative"}}},
{"mark":{"type":"tick","size":7,"thickness":1,"color":"#4a4a4a"},"encoding":{"x":{"field":"hi","type":"quantitative"}}},
{"mark":{"type":"bar","height":14,"fill":"#5f9f99","stroke":"#2a4543","strokeWidth":1},"encoding":{"x":{"field":"q1","type":"quantitative"},"x2":{"field":"q3"}}},
{"mark":{"type":"tick","size":14,"thickness":1.3,"color":"#1c2b2a"},"encoding":{"x":{"field":"md","type":"quantitative"}}},
{"mark":{"type":"point","filled":true,"size":10,"color":"#111","opacity":1},"encoding":{"x":{"field":"mn","type":"quantitative"}}}
]},
{"data":{"name":"outliers"},"transform":[{"filter":"datum.p == 'h'"}],"mark":{"type":"point","filled":true,"size":22,"color":"#111","opacity":1},"encoding":{"x":{"field":"x","type":"quantitative"},"y":{"field":"v","type":"nominal","title":null}}},
{"data":{"name":"notes"},"transform":[{"filter":"datum.p == 'h'"}],"mark":{"type":"text","align":"left","baseline":"middle","dx":4,"font":"Lato","fontSize":25,"color":"#444"},"encoding":{"x":{"datum":-2},"y":{"datum":"rainfall"},"text":{"field":"tag"}}},
{"data":{"name":"notes"},"transform":[{"filter":"datum.p == 'h'"}],"mark":{"type":"text","align":"center","baseline":"middle","dy":-20,"font":"Lato","fontWeight":"bold","fontSize":14,"lineHeight":20,"color":"#e3262a"},"encoding":{"x":{"datum":0.42},"y":{"datum":"fault"},"text":{"field":"t"}}}
]},
{"width":443,"height":227,"layer":[
{"data":{"name":"boxes"},"transform":[{"filter":"datum.p == 'i'"}],"encoding":{"y":{"field":"v","type":"nominal","title":null,"scale":{"domain":["rainfall","fault","road","vege","Intensity","TWI","Aspect","slope","Relief","DEM"]}}},"layer":[
{"mark":{"type":"rule","color":"#4a4a4a"},"encoding":{"x":{"field":"lo","type":"quantitative","title":"Regression coefficients","scale":{"domain":[-10,35],"nice":false,"zero":false},"axis":{"tickCount":60,"labelOverlap":false,"labelBound":false,"values":[-10,-7.5,-5,-2.5,0,2.5,5,7.5,10,12.5,15,17.5,20,22.5,25,27.5,30,32.5,35],"labelExpr":"abs(datum.value % 5) < 1e-6 ? '' + datum.value : ''"}},"x2":{"field":"hi"}}},
{"mark":{"type":"tick","size":7,"thickness":1,"color":"#4a4a4a"},"encoding":{"x":{"field":"lo","type":"quantitative"}}},
{"mark":{"type":"tick","size":7,"thickness":1,"color":"#4a4a4a"},"encoding":{"x":{"field":"hi","type":"quantitative"}}},
{"mark":{"type":"bar","height":14,"fill":"#5f9f99","stroke":"#2a4543","strokeWidth":1},"encoding":{"x":{"field":"q1","type":"quantitative"},"x2":{"field":"q3"}}},
{"mark":{"type":"tick","size":14,"thickness":1.3,"color":"#1c2b2a"},"encoding":{"x":{"field":"md","type":"quantitative"}}},
{"mark":{"type":"point","filled":true,"size":10,"color":"#111","opacity":1},"encoding":{"x":{"field":"mn","type":"quantitative"}}}
]},
{"data":{"name":"outliers"},"transform":[{"filter":"datum.p == 'i'"}],"mark":{"type":"point","filled":true,"size":22,"color":"#111","opacity":1},"encoding":{"x":{"field":"x","type":"quantitative"},"y":{"field":"v","type":"nominal","title":null}}},
{"data":{"name":"notes"},"transform":[{"filter":"datum.p == 'i'"}],"mark":{"type":"text","align":"left","baseline":"middle","dx":4,"dy":3,"font":"Lato","fontSize":25,"color":"#444"},"encoding":{"x":{"datum":-10},"y":{"datum":"rainfall"},"text":{"field":"tag"}}},
{"data":{"name":"notes"},"transform":[{"filter":"datum.p == 'i'"}],"mark":{"type":"text","align":"center","baseline":"middle","dy":-9,"font":"Lato","fontWeight":"bold","fontSize":14,"lineHeight":20,"color":"#e3262a"},"encoding":{"x":{"datum":22.2},"y":{"datum":"fault"},"text":{"field":"t"}}}
]},
{"width":443,"height":227,"layer":[
{"data":{"name":"boxes"},"transform":[{"filter":"datum.p == 'j'"}],"encoding":{"y":{"field":"v","type":"nominal","title":null,"scale":{"domain":["rainfall","fault","road","vege","Intensity","TWI","Aspect","slope","Relief","DEM"]}}},"layer":[
{"mark":{"type":"rule","color":"#4a4a4a"},"encoding":{"x":{"field":"lo","type":"quantitative","title":"Regression coefficients","scale":{"domain":[-10,5.5],"nice":false,"zero":false},"axis":{"tickCount":60,"labelOverlap":false,"labelBound":false,"values":[-10,-9,-8,-7,-6,-5,-4,-3,-2,-1,0,1,2,3,4,5],"labelExpr":"abs(datum.value % 2) < 1e-6 ? '' + datum.value : ''"}},"x2":{"field":"hi"}}},
{"mark":{"type":"tick","size":7,"thickness":1,"color":"#4a4a4a"},"encoding":{"x":{"field":"lo","type":"quantitative"}}},
{"mark":{"type":"tick","size":7,"thickness":1,"color":"#4a4a4a"},"encoding":{"x":{"field":"hi","type":"quantitative"}}},
{"mark":{"type":"bar","height":14,"fill":"#5f9f99","stroke":"#2a4543","strokeWidth":1},"encoding":{"x":{"field":"q1","type":"quantitative"},"x2":{"field":"q3"}}},
{"mark":{"type":"tick","size":14,"thickness":1.3,"color":"#1c2b2a"},"encoding":{"x":{"field":"md","type":"quantitative"}}},
{"mark":{"type":"point","filled":true,"size":10,"color":"#111","opacity":1},"encoding":{"x":{"field":"mn","type":"quantitative"}}}
]},
{"data":{"name":"outliers"},"transform":[{"filter":"datum.p == 'j'"}],"mark":{"type":"point","filled":true,"size":22,"color":"#111","opacity":1},"encoding":{"x":{"field":"x","type":"quantitative"},"y":{"field":"v","type":"nominal","title":null}}},
{"data":{"name":"notes"},"transform":[{"filter":"datum.p == 'j'"}],"mark":{"type":"text","align":"left","baseline":"middle","dx":1,"dy":3,"font":"Lato","fontSize":25,"color":"#444"},"encoding":{"x":{"datum":-10},"y":{"datum":"rainfall"},"text":{"field":"tag"}}},
{"data":{"name":"notes"},"transform":[{"filter":"datum.p == 'j'"}],"mark":{"type":"text","align":"center","baseline":"middle","dy":-18,"font":"Lato","fontWeight":"bold","fontSize":14,"lineHeight":20,"color":"#e3262a"},"encoding":{"x":{"datum":-5.8},"y":{"datum":"fault"},"text":{"field":"t"}}}
]},
{"width":443,"height":227,"layer":[
{"data":{"name":"boxes"},"transform":[{"filter":"datum.p == 'k'"}],"encoding":{"y":{"field":"v","type":"nominal","title":null,"scale":{"domain":["rainfall","fault","road","vege","Intensity","TWI","Aspect","slope","Relief","DEM"]}}},"layer":[
{"mark":{"type":"rule","color":"#4a4a4a"},"encoding":{"x":{"field":"lo","type":"quantitative","title":"Regression coefficients","scale":{"domain":[-17,20],"nice":false,"zero":false},"axis":{"tickCount":60,"labelOverlap":false,"labelBound":false,"values":[-15,-12.5,-10,-7.5,-5,-2.5,0,2.5,5,7.5,10,12.5,15,17.5,20],"labelExpr":"abs(datum.value % 5) < 1e-6 ? '' + datum.value : ''"}},"x2":{"field":"hi"}}},
{"mark":{"type":"tick","size":7,"thickness":1,"color":"#4a4a4a"},"encoding":{"x":{"field":"lo","type":"quantitative"}}},
{"mark":{"type":"tick","size":7,"thickness":1,"color":"#4a4a4a"},"encoding":{"x":{"field":"hi","type":"quantitative"}}},
{"mark":{"type":"bar","height":14,"fill":"#5f9f99","stroke":"#2a4543","strokeWidth":1},"encoding":{"x":{"field":"q1","type":"quantitative"},"x2":{"field":"q3"}}},
{"mark":{"type":"tick","size":14,"thickness":1.3,"color":"#1c2b2a"},"encoding":{"x":{"field":"md","type":"quantitative"}}},
{"mark":{"type":"point","filled":true,"size":10,"color":"#111","opacity":1},"encoding":{"x":{"field":"mn","type":"quantitative"}}}
]},
{"data":{"name":"outliers"},"transform":[{"filter":"datum.p == 'k'"}],"mark":{"type":"point","filled":true,"size":22,"color":"#111","opacity":1},"encoding":{"x":{"field":"x","type":"quantitative"},"y":{"field":"v","type":"nominal","title":null}}},
{"data":{"name":"notes"},"transform":[{"filter":"datum.p == 'k'"}],"mark":{"type":"text","align":"left","baseline":"middle","dx":3,"dy":3,"font":"Lato","fontSize":25,"color":"#444"},"encoding":{"x":{"datum":-17},"y":{"datum":"rainfall"},"text":{"field":"tag"}}},
{"data":{"name":"notes"},"transform":[{"filter":"datum.p == 'k'"}],"mark":{"type":"text","align":"center","baseline":"middle","dy":-19,"font":"Lato","fontWeight":"bold","fontSize":14,"lineHeight":20,"color":"#e3262a"},"encoding":{"x":{"datum":10.08},"y":{"datum":"road"},"text":{"field":"t"}}}
]},
{"width":443,"height":227,"layer":[
{"data":{"name":"boxes"},"transform":[{"filter":"datum.p == 'l'"}],"encoding":{"y":{"field":"v","type":"nominal","title":null,"scale":{"domain":["rainfall","fault","road","vege","Intensity","TWI","Aspect","slope","Relief","DEM"]}}},"layer":[
{"mark":{"type":"rule","color":"#4a4a4a"},"encoding":{"x":{"field":"lo","type":"quantitative","title":"Regression coefficients","scale":{"domain":[-10,10],"nice":false,"zero":false},"axis":{"tickCount":60,"labelOverlap":false,"labelBound":false,"values":[-10,-9,-8,-7,-6,-5,-4,-3,-2,-1,0,1,2,3,4,5,6,7,8,9,10],"labelExpr":"abs(datum.value % 2) < 1e-6 ? '' + datum.value : ''"}},"x2":{"field":"hi"}}},
{"mark":{"type":"tick","size":7,"thickness":1,"color":"#4a4a4a"},"encoding":{"x":{"field":"lo","type":"quantitative"}}},
{"mark":{"type":"tick","size":7,"thickness":1,"color":"#4a4a4a"},"encoding":{"x":{"field":"hi","type":"quantitative"}}},
{"mark":{"type":"bar","height":14,"fill":"#5f9f99","stroke":"#2a4543","strokeWidth":1},"encoding":{"x":{"field":"q1","type":"quantitative"},"x2":{"field":"q3"}}},
{"mark":{"type":"tick","size":14,"thickness":1.3,"color":"#1c2b2a"},"encoding":{"x":{"field":"md","type":"quantitative"}}},
{"mark":{"type":"point","filled":true,"size":10,"color":"#111","opacity":1},"encoding":{"x":{"field":"mn","type":"quantitative"}}}
]},
{"data":{"name":"outliers"},"transform":[{"filter":"datum.p == 'l'"}],"mark":{"type":"point","filled":true,"size":22,"color":"#111","opacity":1},"encoding":{"x":{"field":"x","type":"quantitative"},"y":{"field":"v","type":"nominal","title":null}}},
{"data":{"name":"notes"},"transform":[{"filter":"datum.p == 'l'"}],"mark":{"type":"text","align":"left","baseline":"middle","dx":4,"dy":4,"font":"Lato","fontSize":25,"color":"#444"},"encoding":{"x":{"datum":-10},"y":{"datum":"rainfall"},"text":{"field":"tag"}}},
{"data":{"name":"notes"},"transform":[{"filter":"datum.p == 'l'"}],"mark":{"type":"text","align":"center","baseline":"middle","dy":-22,"font":"Lato","fontWeight":"bold","fontSize":14,"lineHeight":20,"color":"#e3262a"},"encoding":{"x":{"datum":-1.37},"y":{"datum":"fault"},"text":{"field":"t"}}}
]}
],
"config": {
"font": "Lato",
"view": {"stroke": "#7a7a7a", "strokeWidth": 1},
"axis": {"domainColor": "#7a7a7a", "tickColor": "#555", "gridColor": "#b3b3b3", "gridDash": [2, 2], "gridWidth": 1, "labelFont": "Lato", "labelFontWeight": "bold", "labelColor": "#1a1a1a", "titleFont": "Lato", "titleColor": "#1a1a1a"},
"axisX": {"labelFontSize": 16, "labelPadding": 1, "tickSize": 5, "titleFontSize": 20, "titleFontWeight": "bold", "titleFontStyle": "italic", "titlePadding": 3, "labelFlush": false, "labelOverlap": false, "grid": true},
"axisY": {"labelFontSize": 14, "labelPadding": 3, "tickSize": 5, "grid": true}
}
}
